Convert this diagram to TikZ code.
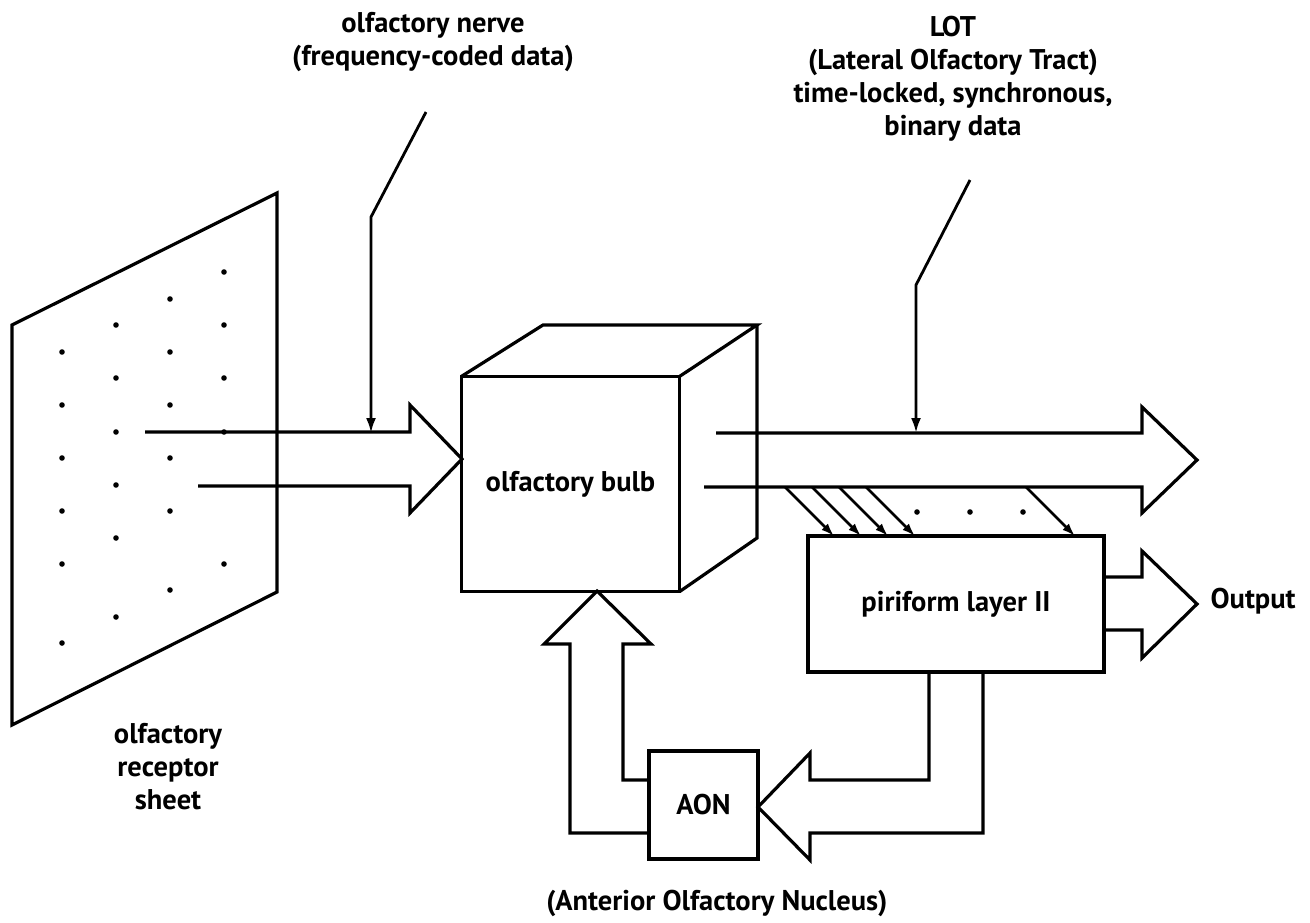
\documentclass[tikz,border=0pt]{standalone}
\usepackage{fontspec}
\setmainfont{PT Sans}
\usetikzlibrary{arrows.meta}
\begin{document}
\begin{tikzpicture}[x=1pt,y=-1pt,
  line width=3.2pt, line join=miter,
  txt/.style={font=\bfseries\fontsize{28.5}{33}\selectfont},
  lbl/.style={txt, align=center, inner sep=0pt},
  boxnode/.style={draw, line width=3.2pt, inner sep=0pt, txt},
  lead/.style={line width=2.8pt, -{Latex[length=15pt,width=10pt]}},
  diag/.style={line width=2.6pt, -{Latex[length=13pt,width=9pt]}},
  dot/.style={fill=black, draw=none}
]
\useasboundingbox (0,0) rectangle (1310,922);

% receptor sheet
\coordinate (s1) at (12,325);
\coordinate (s2) at (277,193);
\coordinate (s3) at (277,592);
\coordinate (s4) at (12,725);
\draw (s1) -- (s2) -- (s3) -- (s4) -- cycle;
\foreach \x/\y in {62/352,62/405,62/458,62/511,62/564,62/643,
                   116/325,116/378,116/432,116/485,116/538,116/617,
                   170/299,170/352,170/405,170/458,170/511,170/590,
                   224/272,224/325,224/378,224/432,224/564}
  \fill[dot] (\x,\y) circle (2.8);

% olfactory bulb cube
\node[minimum width=215pt, minimum height=212pt, inner sep=0pt, txt] (bulb) at (570.5,484) {olfactory bulb};
\draw (bulb.north west) rectangle (bulb.south east);
\coordinate (b1) at (543,325);
\coordinate (b2) at (757,325);
\coordinate (b3) at (757,538);
\draw (bulb.north west) -- (b1) -- (b2) -- (bulb.north east);
\draw (b2) -- (b3) -- (bulb.south east);

% input block arrow
\coordinate (i1) at (145,432);
\coordinate (i2) at (410,432);
\coordinate (i3) at (410,405);
\coordinate (i4) at (462,459);
\coordinate (i5) at (410,513);
\coordinate (i6) at (410,486);
\coordinate (i7) at (198,486);
\draw (i1) -- (i2) -- (i3) -- (i4) -- (i5) -- (i6) -- (i7);

% LOT block arrow
\coordinate (l1) at (716,433);
\coordinate (l2) at (1142,433);
\coordinate (l3) at (1142,407);
\coordinate (l4) at (1197,460);
\coordinate (l5) at (1142,513);
\coordinate (l6) at (1142,487);
\coordinate (l7) at (704,487);
\draw (l1) -- (l2) -- (l3) -- (l4) -- (l5) -- (l6) -- (l7);

% piriform
\node[boxnode, minimum width=296pt, minimum height=136pt] (piri) at (956,604) {piriform layer II};

% diagonal projections
\foreach \s/\e in {785/834,812/861,839/888,866/915,1026/1075}{
  \coordinate (ds) at (\s,487);
  \coordinate (de) at (\e,536);
  \draw[diag] (ds) -- (de);
}
\foreach \x in {917,970,1023}
  \fill[dot] (\x,512) circle (2.8);

% output block arrow
\coordinate (o1) at (1104,577);
\coordinate (o2) at (1142,577);
\coordinate (o3) at (1142,551);
\coordinate (o4) at (1197,604);
\coordinate (o5) at (1142,658);
\coordinate (o6) at (1142,630);
\coordinate (o7) at (1104,630);
\draw (o1) -- (o2) -- (o3) -- (o4) -- (o5) -- (o6) -- (o7);
\node[lbl, anchor=west] (out) at (1209,601) {Output};

% AON
\node[boxnode, minimum width=109pt, minimum height=108pt] (aon) at (703.5,805) {AON};

% up arrow AON -> bulb
\coordinate (u1) at (649,833);
\coordinate (u2) at (570,833);
\coordinate (u3) at (570,644);
\coordinate (u4) at (544,644);
\coordinate (u5) at (597,591);
\coordinate (u6) at (651,644);
\coordinate (u7) at (623,644);
\coordinate (u8) at (623,780);
\coordinate (u9) at (649,780);
\draw (u1) -- (u2) -- (u3) -- (u4) -- (u5) -- (u6) -- (u7) -- (u8) -- (u9);

% left arrow piriform -> AON
\coordinate (a1) at (929,672);
\coordinate (a2) at (929,780);
\coordinate (a3) at (810,780);
\coordinate (a4) at (810,753);
\coordinate (a5) at (758,807);
\coordinate (a6) at (810,860);
\coordinate (a7) at (810,833);
\coordinate (a8) at (983,833);
\coordinate (a9) at (983,672);
\draw (a1) -- (a2) -- (a3) -- (a4) -- (a5) -- (a6) -- (a7) -- (a8) -- (a9);

% leaders
\coordinate (n1) at (426,112);
\coordinate (n2) at (371,217);
\coordinate (n3) at (371,433);
\draw[lead] (n1) -- (n2) -- (n3);
\coordinate (t1) at (970,180);
\coordinate (t2) at (916,285);
\coordinate (t3) at (916,433);
\draw[lead] (t1) -- (t2) -- (t3);

% labels
\node[lbl] (nerve) at (433,42.5) {olfactory nerve\\(frequency-coded data)};
\node[lbl] (lot) at (953,79) {LOT\\(Lateral Olfactory Tract)\\time-locked, synchronous,\\binary data};
\node[lbl] (sheet) at (168,766.5) {olfactory\\receptor\\sheet};
\node[lbl] (aonname) at (717,903) {(Anterior Olfactory Nucleus)};
\end{tikzpicture}
\end{document}
